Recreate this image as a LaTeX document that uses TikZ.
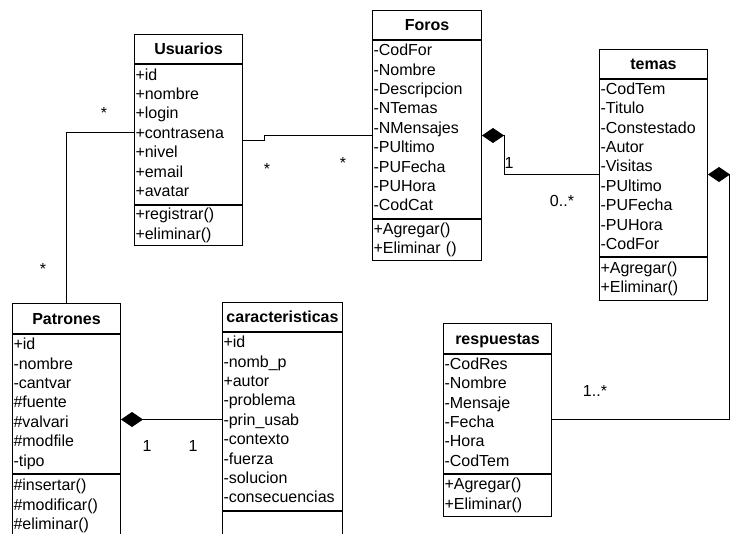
\documentclass[tikz,border=0pt]{standalone}
\usepackage{fontspec}
\setmainfont{Liberation Sans}
\usetikzlibrary{arrows.meta,positioning}
\tikzset{
clsname/.style = {draw, line width=1pt, inner sep=0pt, text height=11.6pt, text depth=0pt,
  minimum width=108pt, minimum height=29pt, font=\bfseries\fontsize{16}{19.4}\selectfont},% nom de classe
clsbody/.style = {draw, line width=1pt, align=left, inner xsep=1pt, inner ysep=0pt, text width=106pt,
  font=\fontsize{16}{19.4}\selectfont, execute at begin node=\strut, execute at end node=\strut},% attributs, methodes
mult/.style = {anchor=base, inner sep=0pt, font=\fontsize{16}{19.4}\selectfont},% multiplicite
assoc/.style = {line width=0.8pt},
compo/.style = {assoc, {Diamond[length=22pt,width=15pt]}-}
}
\begin{document}
\begin{tikzpicture}[x=1pt,y=-1pt]
\useasboundingbox (0,0) rectangle (739,533);
% Usuarios
\node[clsname, anchor=north west] (usr) at (134,34) {Usuarios};
\node[clsbody, minimum height=140pt, below=0pt of usr] (usr-a) {+id\\+nombre\\+login\\+contrasena\\+nivel\\+email\\+avatar};
\node[clsbody, minimum height=40pt, below=0pt of usr-a] (usr-m) {+registrar()\\+eliminar()};
% Foros
\node[clsname, anchor=north west, minimum width=109pt] (for) at (372,10) {Foros};
\node[clsbody, text width=107pt, minimum height=178pt, below=0pt of for] (for-a) {-CodFor\\-Nombre\\-Descripcion\\-NTemas\\-NMensajes\\-PUltimo\\-PUFecha\\-PUHora\\-CodCat};
\node[clsbody, text width=107pt, minimum height=41pt, below=0pt of for-a] (for-m) {+Agregar()\\+Eliminar ()};
% temas
\node[clsname, anchor=north west] (tem) at (599,49) {temas};
\node[clsbody, minimum height=177pt, below=0pt of tem] (tem-a) {-CodTem\\-Titulo\\-Constestado\\-Autor\\-Visitas\\-PUltimo\\-PUFecha\\-PUHora\\-CodFor};
\node[clsbody, minimum height=43pt, below=0pt of tem-a] (tem-m) {+Agregar()\\+Eliminar()};
% respuestas
\node[clsname, anchor=north west, minimum height=30pt] (res) at (443,323) {respuestas};
\node[clsbody, minimum height=119pt, below=0pt of res] (res-a) {-CodRes\\-Nombre\\-Mensaje\\-Fecha\\-Hora\\-CodTem};
\node[clsbody, minimum height=42pt, below=0pt of res-a] (res-m) {+Agregar()\\+Eliminar()};
% Patrones
\node[clsname, anchor=north west, minimum height=30pt] (pat) at (12,303) {Patrones};
\node[clsbody, minimum height=139pt, below=0pt of pat] (pat-a) {+id\\-nombre\\-cantvar\\\#fuente\\\#valvari\\\#modfile\\-tipo};
\node[clsbody, minimum height=64pt, below=0pt of pat-a] (pat-m) {\#insertar()\\\#modificar()\\\#eliminar()};
% caracteristicas
\node[clsname, anchor=north west, minimum width=120pt] (car) at (222,302) {caracteristicas};
\node[clsbody, text width=118pt, minimum height=178pt, below=0pt of car] (car-a) {+id\\-nomb\_p\\+autor\\-problema\\-prin\_usab\\-contexto\\-fuerza\\-solucion\\-consecuencias};
\node[clsbody, text width=118pt, minimum height=40pt, below=0pt of car-a] (car-m) {};
% relations
\draw[assoc] ([yshift=-6pt]usr-a.east) -- ++(21,0) |- ([yshift=-6pt]for-a.west);
\draw[assoc] ([yshift=2pt]usr-a.west) -| (pat.north);
\draw[compo] ([yshift=-6pt]for-a.east) -- ++(22,0) |- ([yshift=-6.5pt]tem-a.west);
\draw[compo] ([yshift=-6.5pt]tem-a.east) -- ++(21,0) |- ([yshift=-5.5pt]res-a.east);
\coordinate (pc) at ([yshift=-15.5pt]pat-a.east);
\draw[compo] (pc) -- (pc -| car-a.west);
% multiplicites
\node[mult] (m-usr-pat) at (104,118) {*};
\node[mult] (m-usr-for) at (267,174) {*};
\node[mult] (m-for-usr) at (343,168) {*};
\node[mult] (m-pat-usr) at (43,274) {*};
\node[mult] (m-for-tem) at (509,168) {1};
\node[mult] (m-tem-for) at (562,206) {0..*};
\node[mult] (m-res-tem) at (595,396) {1..*};
\node[mult] (m-pat-car) at (147,451) {1};
\node[mult] (m-car-pat) at (193,451) {1};
\end{tikzpicture}
\end{document}
